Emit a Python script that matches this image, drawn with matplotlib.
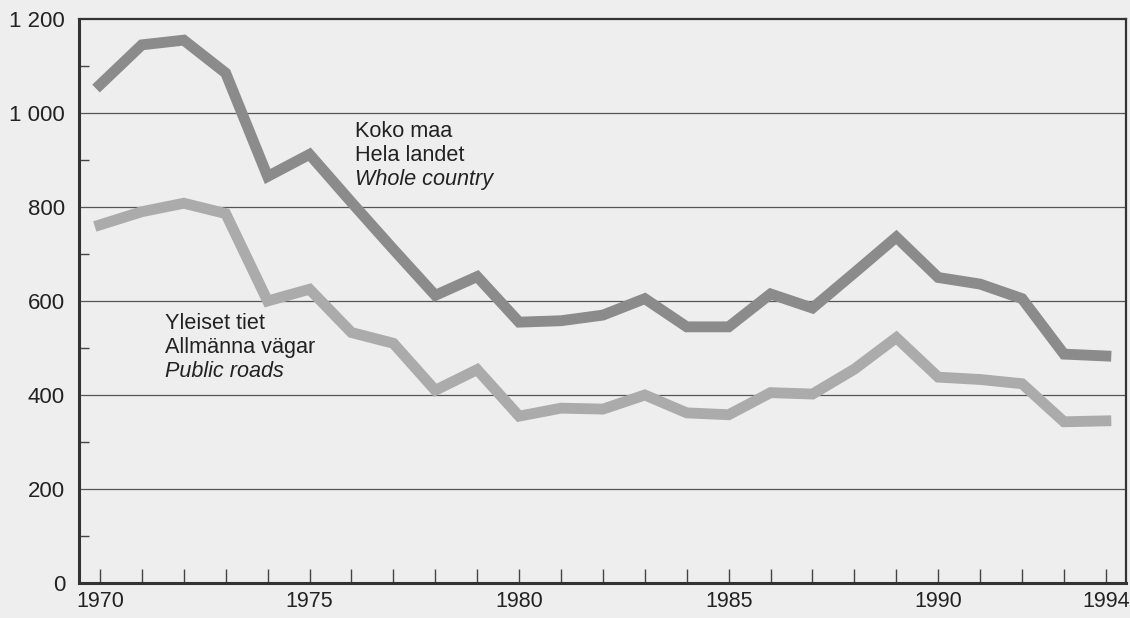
import matplotlib
matplotlib.use("Agg")
import matplotlib.pyplot as plt
from matplotlib.ticker import MultipleLocator, FixedLocator, FuncFormatter

years = list(range(1970, 1995))
whole_country = [1060, 1145, 1155, 1085, 865, 912, 810, 710, 612, 652, 555, 558, 570, 605, 545,
                 545, 615, 585, 660, 736, 650, 636, 605, 487, 483]
public_roads = [762, 790, 808, 786, 600, 625, 533, 510, 410, 454, 355, 372, 370, 400, 362,
                358, 405, 402, 455, 522, 438, 433, 424, 343, 345]
xtick_labels = {1970: "1970", 1975: "1975", 1980: "1980", 1985: "1985", 1990: "1990", 1994: "1994"}

plt.rcParams['font.family'] = ['Liberation Sans', 'DejaVu Sans']
bg = "#eeeeee"
fig = plt.figure(figsize=(11.3, 6.18), dpi=100, facecolor=bg)
ax = fig.add_axes([79/1130, 1 - 583/618, (1126-79)/1130, (583-19)/618])
ax.set_facecolor(bg)

ax.plot(years, whole_country, color="#8b8b8b", lw=7.8, solid_joinstyle="miter", zorder=3)
ax.plot(years, public_roads, color="#ababab", lw=7.8, solid_joinstyle="miter", zorder=3)

ax.set_xlim(1969.5, 1994.48)
ax.set_ylim(0, 1200)

for y in [200, 400, 600, 800, 1000]:
    ax.axhline(y, color="#555555", lw=0.9, zorder=1)

ax.yaxis.set_major_locator(MultipleLocator(200))
ax.yaxis.set_minor_locator(FixedLocator([100, 300, 500, 700, 900, 1100]))
ax.yaxis.set_major_formatter(FuncFormatter(lambda v, p: f"{int(v):,}".replace(",", " ")))
ax.tick_params(axis="y", which="major", length=0, labelsize=16, pad=10, colors="#222222")
ax.tick_params(axis="y", which="minor", direction="in", length=7, width=1, color="#444444")

ax.xaxis.set_major_locator(FixedLocator(years))
ax.set_xticklabels([xtick_labels.get(y, "") for y in years])
ax.tick_params(axis="x", direction="in", length=10, width=1, color="#444444", labelsize=15.5,
               pad=6)
for lbl in ax.get_xticklabels():
    lbl.set_color("#222222")

for side in ["left", "bottom"]:
    ax.spines[side].set_linewidth(2.2)
    ax.spines[side].set_color("#333333")
for side in ["top", "right"]:
    ax.spines[side].set_linewidth(1.6)
    ax.spines[side].set_color("#333333")

kw = dict(fontsize=15.6, color="#222222", va="baseline", zorder=4)
ax.text(1976.08, 949, "Koko maa", **kw)
ax.text(1976.08, 898, "Hela landet", **kw)
ax.text(1976.08, 847, "Whole country", style="italic", **kw)

ax.text(1971.55, 541, "Yleiset tiet", **kw)
ax.text(1971.55, 490, "Allmänna vägar", **kw)
ax.text(1971.55, 439, "Public roads", style="italic", **kw)

fig.savefig("out.png", dpi=100, facecolor=bg)
